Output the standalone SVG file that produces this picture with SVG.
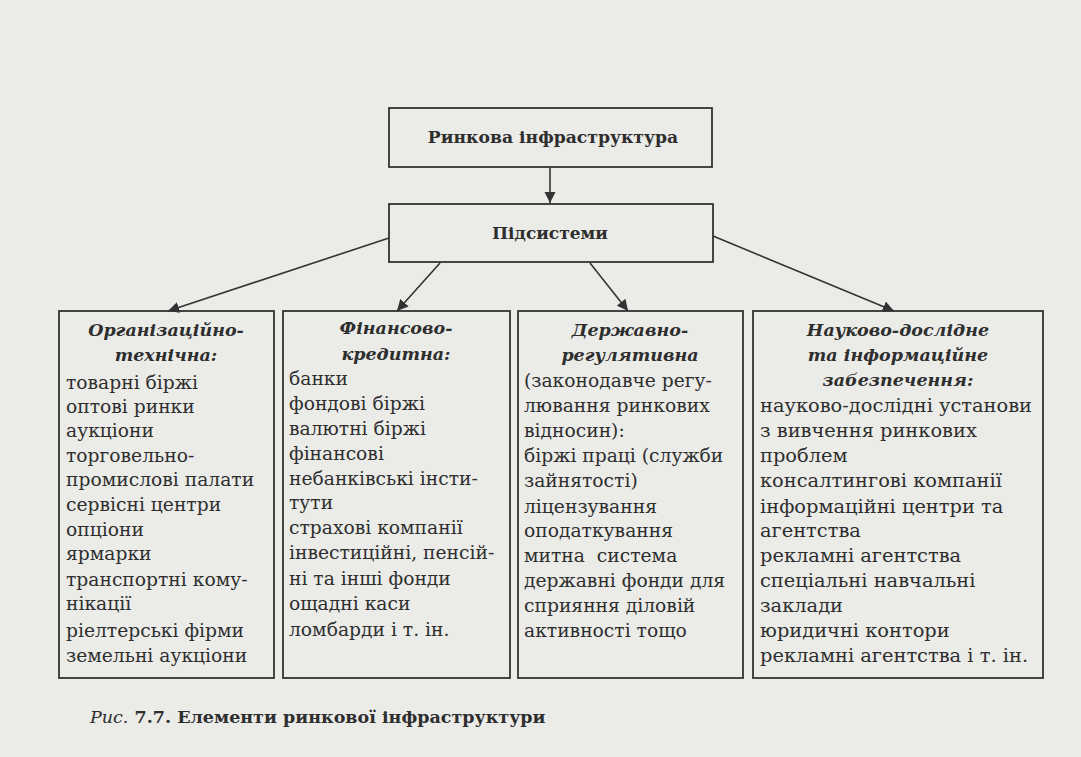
<svg xmlns="http://www.w3.org/2000/svg" width="1081" height="757" viewBox="0 0 1081 757">
<style>
.bx{fill:none;stroke:#333;stroke-width:1.8}
.t{font-family:"DejaVu Serif","Liberation Serif",serif;font-size:18.7px;fill:#2e2e2e}
.t4{font-size:19.4px}
.h{font-family:"DejaVu Serif","Liberation Serif",serif;font-size:17.5px;font-weight:bold;font-style:italic;fill:#2e2e2e;text-anchor:middle}
.b{font-family:"DejaVu Serif","Liberation Serif",serif;font-size:17px;font-weight:bold;fill:#2e2e2e;text-anchor:middle}
.c{stroke:#333;stroke-width:1.6;fill:none}
</style>
<defs>
<marker id="ar" viewBox="0 0 10 10" refX="10" refY="5" markerWidth="7" markerHeight="7" orient="auto" markerUnits="strokeWidth">
<path d="M0,0 L10,5 L0,10 z" fill="#333"/>
</marker>
</defs>
<rect width="1081" height="757" fill="#ebebe8"/>
<g id="connectors">
<line class="c" x1="550" y1="167" x2="550" y2="203" marker-end="url(#ar)"/>
<line class="c" x1="389" y1="238" x2="168" y2="311" marker-end="url(#ar)"/>
<line class="c" x1="440" y1="263" x2="397" y2="311" marker-end="url(#ar)"/>
<line class="c" x1="590" y1="263" x2="628" y2="311" marker-end="url(#ar)"/>
<line class="c" x1="713" y1="236" x2="894" y2="311" marker-end="url(#ar)"/>
</g>
<g id="root">
<rect class="bx" x="389" y="108" width="323" height="59"/>
<text class="b" x="553" y="143" style="font-size:17.2px">Ринкова інфраструктура</text>
</g>
<g id="subsystems">
<rect class="bx" x="389" y="204" width="324" height="58"/>
<text class="b" x="550" y="239">Підсистеми</text>
</g>
<g id="org">
<rect class="bx" x="59" y="311" width="215" height="367"/>
<text class="h" x="166" y="336">Організаційно-</text>
<text class="h" x="166" y="361">технічна:</text>
<text class="t" x="66" y="389">товарні біржі</text>
<text class="t" x="66" y="413">оптові ринки</text>
<text class="t" x="66" y="437">аукціони</text>
<text class="t" x="66" y="462">торговельно-</text>
<text class="t" x="66" y="486">промислові палати</text>
<text class="t" x="66" y="511">сервісні центри</text>
<text class="t" x="66" y="536">опціони</text>
<text class="t" x="66" y="560">ярмарки</text>
<text class="t" x="66" y="586">транспортні кому-</text>
<text class="t" x="66" y="610">нікації</text>
<text class="t" x="66" y="637">ріелтерські фірми</text>
<text class="t" x="66" y="662">земельні аукціони</text>
</g>
<g id="fin">
<rect class="bx" x="283" y="311" width="227" height="367"/>
<text class="h" x="396" y="334">Фінансово-</text>
<text class="h" x="396" y="360">кредитна:</text>
<text class="t" x="289" y="385">банки</text>
<text class="t" x="289" y="410">фондові біржі</text>
<text class="t" x="289" y="435">валютні біржі</text>
<text class="t" x="289" y="460">фінансові</text>
<text class="t" x="289" y="485">небанківські інсти-</text>
<text class="t" x="289" y="509">тути</text>
<text class="t" x="289" y="534">страхові компанії</text>
<text class="t" x="289" y="559">інвестиційні, пенсій-</text>
<text class="t" x="289" y="585">ні та інші фонди</text>
<text class="t" x="289" y="610">ощадні каси</text>
<text class="t" x="289" y="636">ломбарди і т. ін.</text>
</g>
<g id="gov">
<rect class="bx" x="518" y="311" width="225" height="367"/>
<text class="h" x="630" y="336">Державно-</text>
<text class="h" x="630" y="361">регулятивна</text>
<text class="t" x="524" y="387">(законодавче регу-</text>
<text class="t" x="524" y="412">лювання ринкових</text>
<text class="t" x="524" y="437">відносин):</text>
<text class="t" x="524" y="462">біржі праці (служби</text>
<text class="t" x="524" y="487">зайнятості)</text>
<text class="t" x="524" y="513">ліцензування</text>
<text class="t" x="524" y="537">оподаткування</text>
<text class="t" x="524" y="562" xml:space="preserve">митна  система</text>
<text class="t" x="524" y="587">державні фонди для</text>
<text class="t" x="524" y="612">сприяння діловій</text>
<text class="t" x="524" y="637">активності тощо</text>
</g>
<g id="sci">
<rect class="bx" x="753" y="311" width="290" height="367"/>
<text class="h" x="898" y="336">Науково-дослідне</text>
<text class="h" x="898" y="361">та інформаційне</text>
<text class="h" x="898" y="386">забезпечення:</text>
<text class="t t4" x="760" y="412">науково-дослідні установи</text>
<text class="t t4" x="760" y="437">з вивчення ринкових</text>
<text class="t t4" x="760" y="462">проблем</text>
<text class="t t4" x="760" y="487">консалтингові компанії</text>
<text class="t t4" x="760" y="513">інформаційні центри та</text>
<text class="t t4" x="760" y="537">агентства</text>
<text class="t t4" x="760" y="562">рекламні агентства</text>
<text class="t t4" x="760" y="587">спеціальні навчальні</text>
<text class="t t4" x="760" y="612">заклади</text>
<text class="t t4" x="760" y="637">юридичні контори</text>
<text class="t t4" x="760" y="662">рекламні агентства і т. ін.</text>
</g>
<text x="90" y="723" style="font-family:'DejaVu Serif','Liberation Serif',serif;font-size:17.5px;fill:#2e2e2e"><tspan font-style="italic">Рис.</tspan><tspan font-weight="bold"> 7.7. Елементи ринкової інфраструктури</tspan></text>
</svg>
